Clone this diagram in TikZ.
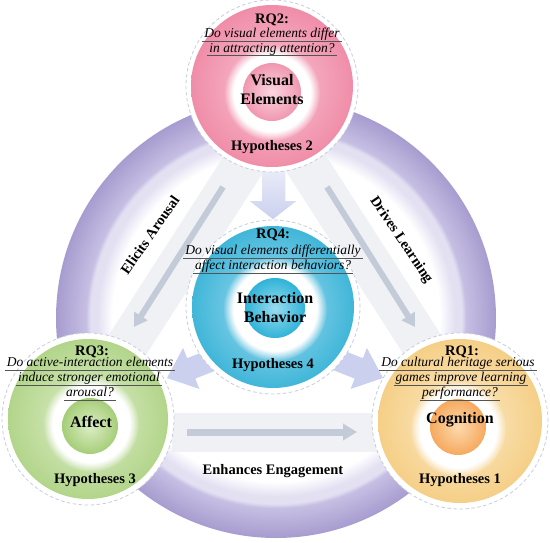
\documentclass[tikz,border=0pt]{standalone}
\usepackage{fontspec}
\setmainfont{Liberation Serif}
\usetikzlibrary{arrows.meta,fadings}

\definecolor{purpA}{HTML}{A79CCF}
\definecolor{purpB}{HTML}{C6BFE3}
\definecolor{lavA}{HTML}{E3E0F2}
\definecolor{bandc}{HTML}{EEF0F3}
\definecolor{arrc}{HTML}{C3CBD9}
\definecolor{warr}{HTML}{CBD0EE}
\definecolor{dashc}{HTML}{C6CDE0}
\definecolor{ulc}{HTML}{555555}
\definecolor{pinkC}{HTML}{F8C6D3}
\definecolor{pinkE}{HTML}{F08DA9}
\definecolor{pinkI}{HTML}{FBD6E0}
\definecolor{pinkIE}{HTML}{F097B0}
\definecolor{blueC}{HTML}{A8DDEF}
\definecolor{blueE}{HTML}{40B6D9}
\definecolor{blueI}{HTML}{9ADCEF}
\definecolor{blueIE}{HTML}{2FB3D8}
\definecolor{greenC}{HTML}{E0EECD}
\definecolor{greenE}{HTML}{B2D58A}
\definecolor{greenI}{HTML}{DDEDC6}
\definecolor{greenIE}{HTML}{A5CE78}
\definecolor{orC}{HTML}{FCEBC9}
\definecolor{orE}{HTML}{F5CF87}
\definecolor{orI}{HTML}{FCDAAE}
\definecolor{orIE}{HTML}{F6A95E}

\pgfdeclareradialshading{bigring}{\pgfpoint{0bp}{0bp}}{color(0bp)=(white); color(18.6bp)=(white); color(20.3bp)=(lavA); color(21.1bp)=(lavA); color(21.6bp)=(purpB); color(25bp)=(purpA); color(50bp)=(purpA)}

\newsavebox\qlbox
\newcommand\qline[1]{\sbox\qlbox{#1}\rlap{\hspace{-2pt}\color{ulc}\rule[-3.8pt]{\dimexpr\wd\qlbox+4pt\relax}{0.6pt}}\usebox\qlbox}

\begin{document}
\begin{tikzpicture}[x=1pt,y=-1pt,
 halo/.style={circle,inner sep=0pt,minimum size=#1,fill=white,draw=dashc,line width=0.8pt,dash pattern=on 3.5pt off 2.5pt},
 disc/.style={circle,inner sep=0pt,minimum size=#1},
 rqt/.style={anchor=base,font=\fontsize{14.5}{17}\selectfont\bfseries},
 qt/.style={anchor=base,font=\fontsize{13.5}{15}\selectfont\itshape},
 coret/.style={anchor=base,font=\fontsize{16}{19}\selectfont\bfseries},
 lblt/.style={font=\fontsize{14.5}{17}\selectfont\bfseries},
 band/.style={line width=42pt,draw=bandc,opacity=0.9},
 thinarrow/.style={draw=arrc,line width=6pt,-{Triangle[width=15pt,length=13pt]}},
 widearrow/.style={fill=warr},
]
\useasboundingbox (0,0) rectangle (550,542);

% big ring
\node[disc=440pt, shading=bigring] (ring) at (276,318) {};

% light bands
\coordinate (lbA) at (251.5,151.9);
\coordinate (lbB) at (123.7,350.7);
\coordinate (rbA) at (298.5,151.9);
\coordinate (rbB) at (426.3,350.7);
\draw[band] (lbA) -- (lbB);
\draw[band] (rbA) -- (rbB);
\fill[bandc, opacity=0.9] (172,413) rectangle (380,452);

% thin arrows
\coordinate (la1) at (223,187);
\coordinate (la2) at (134,327);
\coordinate (ra1) at (327,187);
\coordinate (ra2) at (415,327);
\coordinate (ba1) at (187,432);
\coordinate (ba2) at (357,432);
\draw[thinarrow] (la1) -- (la2);
\draw[thinarrow] (ra1) -- (ra2);
\draw[thinarrow, line width=7pt, -{Triangle[width=16pt,length=14pt]}] (ba1) -- (ba2);

% wide lavender arrows
\path[widearrow, top color=warr!35, bottom color=warr] (262,165) -- (285,165) -- (285,201) -- (296,201) -- (273,219) -- (250,201) -- (262,201) -- cycle;
\path[widearrow] (238.3,337.9) -- (246.5,358.3) -- (195.3,378.6) -- (199.3,388.9) -- (167,378) -- (183.1,347.9) -- (187.1,358.2) -- cycle;
\path[widearrow] (311.7,337.9) -- (303.5,358.3) -- (354.7,378.6) -- (350.7,388.9) -- (383,378) -- (366.9,347.9) -- (362.9,358.2) -- cycle;

% pink: visual elements
\node[halo=172pt] (pinkhalo) at (272,86) {};
\node[disc=162pt, inner color=pinkC, outer color=pinkE] (pink) at (272,86) {};
\fill[white, path fading=circle with fuzzy edge 20 percent] (272,93) circle (48pt);
\node[disc=58pt, inner color=pinkI, outer color=pinkIE] (pinkcore) at (272,92) {};

% blue: interaction behaviour
\node[halo=174pt] (bluehalo) at (273,307) {};
\node[disc=162pt, inner color=blueC, outer color=blueE] (blue) at (273,307) {};
\fill[white, path fading=circle with fuzzy edge 20 percent] (275,309) circle (52pt);
\node[disc=60pt, inner color=blueI, outer color=blueIE] (bluecore) at (275,308) {};

% green: affect
\node[halo=172pt] (greenhalo) at (88,419) {};
\node[disc=160pt, inner color=greenC, outer color=greenE] (green) at (88,419) {};
\fill[white, path fading=circle with fuzzy edge 20 percent] (91,424) circle (48pt);
\node[disc=56pt, inner color=greenI, outer color=greenIE] (greencore) at (90,426) {};

% orange: cognition
\node[halo=176pt] (orhalo) at (460,421) {};
\node[disc=164pt, inner color=orC, outer color=orE] (orange) at (460,421) {};
\fill[white, path fading=circle with fuzzy edge 20 percent] (458,429) circle (48pt);
\node[disc=56pt, inner color=orI, outer color=orIE] (orcore) at (458,427) {};

% texts pink
\node[rqt] (rq2) at (272,23) {RQ2:};
\node[qt] (q2a) at (272,37.5) {\qline{Do visual elements differ}};
\node[qt] (q2b) at (272,52) {\qline{in attracting attention?}};
\node[coret] (ve1) at (272,85.5) {Visual};
\node[coret] (ve2) at (272,104.5) {Elements};
\node[rqt] (h2) at (272,150) {Hypotheses 2};

% texts blue
\node[rqt] (rq4) at (273,238) {RQ4:};
\node[qt] (q4a) at (273,254.5) {\qline{Do visual elements differentially}};
\node[qt] (q4b) at (273,269.5) {\qline{affect interaction behaviors?}};
\node[coret] (ib1) at (275,303.5) {Interaction};
\node[coret] (ib2) at (275,322.5) {Behavior};
\node[rqt] (h4) at (273,368) {Hypotheses 4};

% texts green
\node[rqt] (rq3) at (92,355) {RQ3:};
\node[qt] (q3a) at (90,366.5) {\qline{Do active-interaction elements}};
\node[qt] (q3b) at (89,381.5) {\qline{induce stronger emotional}};
\node[qt] (q3c) at (90,396.5) {\qline{arousal?}};
\node[coret] (af) at (91,427.5) {Affect};
\node[rqt] (h3) at (95,483) {Hypotheses 3};

% texts orange
\node[rqt] (rq1) at (462,355) {RQ1:};
\node[qt] (q1a) at (458,366.5) {\qline{Do cultural heritage serious}};
\node[qt] (q1b) at (461,381.5) {\qline{games improve learning}};
\node[qt] (q1c) at (460,396.5) {\qline{performance?}};
\node[coret] (cg) at (460,423.5) {Cognition};
\node[rqt] (h1) at (460,483) {Hypotheses 1};

% relation labels
\node[lblt, rotate=55] (elicit) at (150,235) {Elicits Arousal};
\node[lblt, rotate=-56] (drives) at (401,240) {Drives Learning};
\node[lblt] (enh) at (273,471) {Enhances Engagement};
\end{tikzpicture}
\end{document}
